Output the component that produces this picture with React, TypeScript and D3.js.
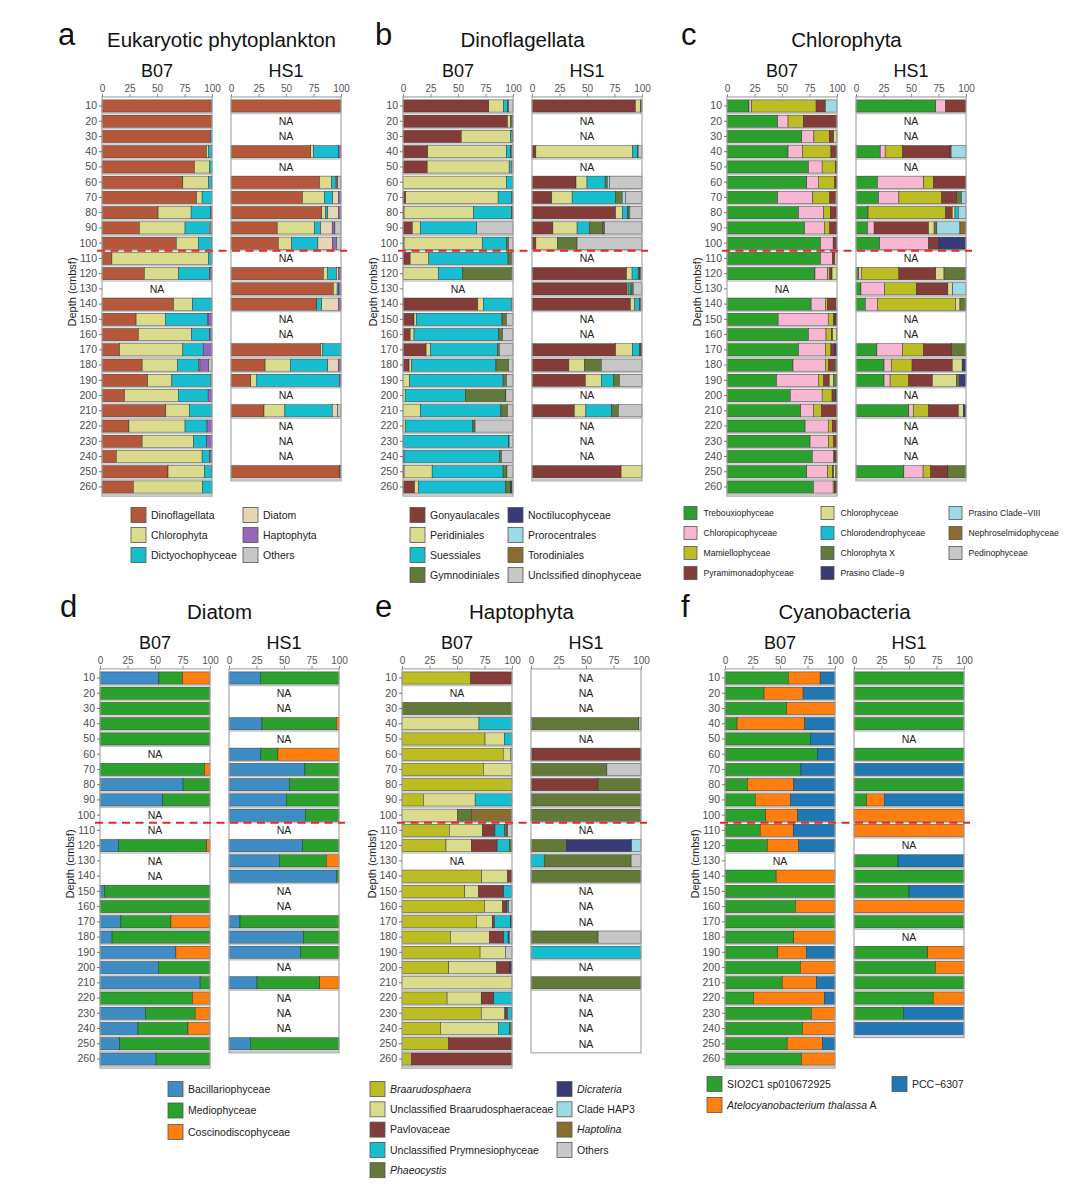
import * as d3 from "d3";
import { useEffect, useRef } from "react";

type Row = number[] | null;

const depths = [10, 20, 30, 40, 50, 60, 70, 80, 90, 100, 110, 120, 130, 140, 150, 160, 170, 180, 190, 200, 210, 220, 230, 240, 250, 260];
const xTicks = [0, 25, 50, 75, 100];

// a - Eukaryotic phytoplankton
const euKeys = ["Dinoflagellata", "Chlorophyta", "Dictyochophyceae", "Diatom", "Haptophyta", "Others"];
const euColors = ["#b5573b", "#dbdb8d", "#17becf", "#e7d6b6", "#9467bd", "#c7c7c7"];
const euB07: Row[] = [
  [99.5, 0, 0.5, 0, 0, 0], [100, 0, 0, 0, 0, 0], [98.5, 0, 1.5, 0, 0, 0], [95, 2, 2.5, 0, 0, 0.5],
  [84, 14, 2, 0, 0, 0], [73.5, 23.5, 2.5, 0, 0.5, 0], [86, 5, 9, 0, 0, 0], [51, 30, 17.5, 0, 1, 0.5],
  [34, 41.5, 22, 1.5, 0, 1], [67.5, 20, 12, 0, 0.5, 0], [9, 88, 3, 0, 0, 0], [38.5, 31, 28.5, 0, 1.5, 0.5],
  null, [65, 17.5, 17.5, 0, 0, 0], [31, 26.5, 38.5, 0.5, 3.5, 0], [33, 48.5, 16.5, 0, 2, 0],
  [16, 57.5, 18.5, 0, 8, 0], [36.5, 32, 19.5, 1, 8, 3], [41.5, 22, 35, 0, 0, 1.5], [20.5, 49, 27, 0, 3.5, 0],
  [58, 21.5, 20.5, 0, 0, 0], [24.5, 51, 20, 0, 4.5, 0], [36.5, 46.5, 12, 0, 5, 0], [13, 78, 7, 0, 1.5, 0.5],
  [60, 33, 6.5, 0, 0.5, 0], [28.5, 63, 8.5, 0, 0, 0],
];
const euHS1: Row[] = [
  [99.5, 0, 0, 0, 0, 0.5], null, null, [72.5, 2.5, 23, 0, 2, 0], null,
  [80.5, 11, 3.5, 1, 1, 3], [65, 20, 7.5, 5, 2.5, 0], [82.5, 3.5, 2, 9.5, 2.5, 0], [42, 34, 5.5, 10.5, 2.5, 5.5],
  [43, 12, 24, 13.5, 3.5, 4], null, [84, 4, 8, 2, 1.5, 0.5], [93, 3.5, 1.5, 0, 2, 0], [77.5, 0.5, 4.5, 15.5, 2, 0],
  null, null, [81.5, 2, 16.5, 0, 0, 0], [31, 23, 34, 9.5, 2, 0.5], [18, 5.5, 75, 0, 1.5, 0], null,
  [30, 19, 43, 5, 0, 3], null, null, null, [99, 0, 0, 0, 1, 0],
];

// b - Dinoflagellata
const dinoKeys = ["Gonyaulacales", "Peridiniales", "Suessiales", "Gymnodiniales", "Noctilucophyceae", "Prorocentrales", "Torodiniales", "Unclssified dinophyceae"];
const dinoColors = ["#843c39", "#dbdb8d", "#17becf", "#637939", "#393b79", "#9edae5", "#8c6d31", "#c7c7c7"];
const dinoB07: Row[] = [
  [78, 13.5, 3.5, 1, 0, 0, 0, 4], [95, 3, 0, 2, 0, 0, 0, 0], [53, 45, 1.5, 0.5, 0, 0, 0, 0], [22.5, 71.5, 4, 0.5, 0, 0, 0, 1.5],
  [22, 74.5, 2, 0, 0, 0, 0, 1.5], [0, 94, 6, 0, 0, 0, 0, 0], [2.5, 84, 12.5, 0.5, 0, 0, 0, 0.5], [1, 63, 34.5, 1, 0, 0, 0, 0.5],
  [8.5, 7.5, 51, 0, 0, 0, 0, 33], [1, 71, 22, 2, 0, 0, 0, 4], [6.5, 17, 72, 3, 0, 0, 0, 1.5], [0, 32, 22, 44.5, 0, 0, 0, 1.5],
  null, [68, 5, 25.5, 0, 0, 0, 0, 1.5], [10, 2.5, 77.5, 4, 0, 0, 0, 6], [6.5, 3.5, 77, 3.5, 0, 0, 0, 9.5],
  [21, 4, 61, 1.5, 0, 0, 0, 12.5], [5.5, 2.5, 76.5, 11.5, 0, 0, 0, 4], [0, 6, 85, 3, 0, 0, 0, 6], [0, 2, 55, 36, 0, 0, 0.5, 6.5],
  [0, 16, 73, 6, 0, 0, 0, 5], [0, 2, 61.5, 2, 0, 0, 0, 34.5], [0, 0.5, 95.5, 0.5, 0, 0, 0, 3.5], [1, 0, 86.5, 2, 0, 0, 0, 10.5],
  [1, 25.5, 64.5, 3.5, 0, 0, 0, 5.5], [10.5, 3.5, 79.5, 4, 1.5, 0, 0, 1],
];
const dinoHS1: Row[] = [
  [94, 4.5, 0, 1.5, 0, 0, 0, 0], null, null, [3.5, 88, 4.5, 0.5, 0, 0, 0, 3.5], null,
  [40, 10, 16.5, 2, 0, 2, 0, 29.5], [18, 18.5, 39.5, 6, 0, 3, 0, 15], [76, 6.5, 4.5, 1, 0, 1, 0, 11], [19, 22, 11, 12.5, 0, 0, 1.5, 34],
  [3.5, 19.5, 0, 18, 0, 0, 0, 59], null, [86, 5, 5.5, 1, 1, 0, 0, 1.5], [86.5, 1.5, 2, 2, 0, 0, 0, 8], [89.5, 4, 4, 1, 0, 0, 0, 1.5],
  null, null, [76, 15.5, 6.5, 1, 1, 0, 0, 0], [33.5, 14, 0, 15.5, 0, 0, 0, 37], [48.5, 14.5, 11, 5.5, 0, 0, 0, 20.5], null,
  [38.5, 10.5, 23.5, 6, 0, 0, 0, 21.5], null, null, null, [81, 19, 0, 0, 0, 0, 0, 0],
];

// c - Chlorophyta
const chloKeys = ["Trebouxiophyceae", "Chloropicophyceae", "Mamiellophyceae", "Pyramimonadophyceae", "Chlorophyceae", "Chlorodendrophyceae", "Chlorophyta X", "Prasino Clade\u22129", "Prasino Clade\u2212VIII", "Nephroselmidophyceae", "Pedinophyceae"];
const chloColors = ["#2ca02c", "#f7b6d2", "#bcbd22", "#843c39", "#dbdb8d", "#17becf", "#637939", "#393b79", "#9edae5", "#8c6d31", "#c7c7c7"];
const chloB07: Row[] = [
  [20, 2.5, 58.5, 8.5, 0, 0, 0, 0, 10.5, 0, 0], [46, 9.5, 14, 30.5, 0, 0, 0, 0, 0, 0, 0], [68, 11, 14, 4, 3, 0, 0, 0, 0, 0, 0],
  [55.5, 13, 26, 5, 0, 0, 0, 0.5, 0, 0, 0], [74, 12.5, 12, 1.5, 0, 0, 0, 0, 0, 0, 0], [72.5, 10.5, 15, 2, 0, 0, 0, 0, 0, 0, 0],
  [46, 32, 15.5, 5, 1.5, 0, 0, 0, 0, 0, 0], [65, 23, 6, 6, 0, 0, 0, 0, 0, 0, 0], [70.5, 18, 5, 6, 0, 0, 0, 0.5, 0, 0, 0],
  [85, 11.5, 0, 3.5, 0, 0, 0, 0, 0, 0, 0], [85, 11, 0, 2, 2, 0, 0, 0, 0, 0, 0], [80, 11.5, 2, 2, 4.5, 0, 0, 0, 0, 0, 0],
  null, [76.5, 13, 2, 7.5, 1, 0, 0, 0, 0, 0, 0], [46.5, 45.5, 5, 1, 0, 0, 1, 1, 0, 0, 0],
  [74, 16, 5, 1, 3.5, 0, 0.5, 0, 0, 0, 0], [65, 24.5, 5, 3, 0, 0, 0, 2.5, 0, 0, 0], [60, 29.5, 3, 5, 0, 0, 2.5, 0, 0, 0, 0],
  [45, 38, 5, 5, 4, 0, 3, 0, 0, 0, 0], [57.5, 29, 9, 2, 0, 0, 1, 1.5, 0, 0, 0], [67, 11.5, 7.5, 14, 0, 0, 0, 0, 0, 0, 0],
  [71, 21, 4, 4, 0, 0, 0, 0, 0, 0, 0], [75.5, 17, 4.5, 3, 0, 0, 0, 0, 0, 0, 0], [77.5, 19.5, 0.5, 2, 0, 0, 0, 0.5, 0, 0, 0],
  [72.5, 19, 4.5, 1, 2, 0, 0.5, 0.5, 0, 0, 0], [78.5, 18, 1, 2, 0, 0, 0, 0.5, 0, 0, 0],
];
const chloHS1: Row[] = [
  [72.5, 9, 0, 18.5, 0, 0, 0, 0, 0, 0, 0], null, null, [22, 4.5, 16, 43, 0, 0, 1, 0, 13.5, 0, 0], null,
  [19.5, 42, 9, 29.5, 0, 0, 0, 0, 0, 0, 0], [20.5, 18.5, 39, 13.5, 0, 0, 4.5, 0, 4, 0, 0],
  [10.5, 0.5, 70.5, 6, 2.5, 3, 0, 0, 7, 0, 0], [10.5, 6, 0, 49.5, 5, 0, 2.5, 0, 21, 5.5, 0],
  [21.5, 44.5, 0, 9, 0, 0, 0.5, 24.5, 0, 0, 0], null, [2.5, 2.5, 34, 33.5, 7.5, 0, 20, 0, 0, 0, 0],
  [4.5, 21.5, 29, 28.5, 4.5, 0, 0, 0, 12, 0, 0], [8.5, 11, 71, 0, 4, 0, 5.5, 0, 0, 0, 0], null, null,
  [19, 23.5, 19, 25.5, 0, 0, 13, 0, 0, 0, 0], [25.5, 6.5, 19, 36.5, 9, 0, 0, 3.5, 0, 0, 0],
  [25.5, 5.5, 17, 21.5, 22, 0, 2.5, 6, 0, 0, 0], null, [48, 4, 14, 27, 4.5, 0, 0, 2.5, 0, 0, 0],
  null, null, null, [43.5, 17.5, 7, 15.5, 0, 0, 16.5, 0, 0, 0, 0],
];

// d - Diatom
const diaKeys = ["Bacillariophyceae", "Mediophyceae", "Coscinodiscophyceae"];
const diaColors = ["#3d8cc4", "#2ca02c", "#ff7f0e"];
const diaB07: Row[] = [
  [53.5, 21.5, 25], [0, 100, 0], [0, 100, 0], [0, 100, 0], [0, 100, 0], null, [0, 95, 5], [75.5, 24.5, 0],
  [57, 43, 0], null, null, [17, 80, 3], null, null, [4, 96, 0], [0, 100, 0], [19, 45.5, 35.5], [11, 89, 0],
  [69, 0, 31], [53, 47, 0], [91, 9, 0], [0, 84, 16], [41.5, 45, 13.5], [34.5, 45.5, 20], [18, 82, 0], [51, 49, 0],
];
const diaHS1: Row[] = [
  [28.5, 71.5, 0], null, null, [30, 67.5, 2.5], null, [29, 15.5, 55.5], [69, 31, 0], [55, 45, 0], [52, 48, 0],
  [69.5, 30.5, 0], null, [67, 33, 0], [46, 42.5, 11.5], [97.5, 2.5, 0], null, null, [10, 90, 0], [67.5, 32.5, 0],
  [65, 35, 0], null, [25.5, 57, 17.5], null, null, null, [19.5, 80.5, 0],
];

// e - Haptophyta
const hapKeys = ["*Braarudosphaera*", "Unclassified Braarudosphaeraceae", "Pavlovaceae", "Unclassified Prymnesiophyceae", "*Phaeocystis*", "*Dicrateria*", "Clade HAP3", "*Haptolina*", "Others"];
const hapColors = ["#bcbd22", "#dbdb8d", "#843c39", "#17becf", "#637939", "#393b79", "#9edae5", "#8c6d31", "#c7c7c7"];
const hapB07: Row[] = [
  [62.5, 0, 37.5, 0, 0, 0, 0, 0, 0], null, [0, 0, 0, 0, 100, 0, 0, 0, 0], [0, 70, 0, 30, 0, 0, 0, 0, 0],
  [75.5, 17.5, 0, 7, 0, 0, 0, 0, 0], [92, 7, 0, 0, 0, 0, 0, 0, 1], [74, 26, 0, 0, 0, 0, 0, 0, 0],
  [100, 0, 0, 0, 0, 0, 0, 0, 0], [19.5, 47, 0, 33.5, 0, 0, 0, 0, 0], [0, 50.5, 0, 0, 12.5, 0, 0, 37, 0],
  [43, 30, 11.5, 8.5, 2.5, 0.5, 0, 0, 4], [40, 23, 23.5, 11, 2.5, 0, 0, 0, 0], null,
  [72.5, 23.5, 4, 0, 0, 0, 0, 0, 0], [57, 12.5, 23, 7.5, 0, 0, 0, 0, 0], [75, 16.5, 4, 1.5, 0, 0, 0, 0, 3],
  [67.5, 14.5, 2, 14.5, 0, 1.5, 0, 0, 0], [44, 35.5, 13, 4, 0, 1, 0, 0, 2.5], [71, 23, 0, 0, 0, 0, 0, 0, 6],
  [42.5, 43.5, 12, 0, 0, 2, 0, 0, 0], [0, 100, 0, 0, 0, 0, 0, 0, 0], [41, 31, 11.5, 16.5, 0, 0, 0, 0, 0],
  [72, 21.5, 2.5, 3.5, 0, 0.5, 0, 0, 0], [35, 52.5, 0, 10, 2.5, 0, 0, 0, 0], [42.5, 0, 57.5, 0, 0, 0, 0, 0, 0],
  [8.5, 0, 91.5, 0, 0, 0, 0, 0, 0],
];
const hapHS1: Row[] = [
  null, null, null, [0, 0, 0, 0, 98, 0, 0, 0, 2], null, [0, 0, 100, 0, 0, 0, 0, 0, 0],
  [0, 0, 0, 0, 69, 0, 0, 0, 31], [0, 0, 61, 0, 39, 0, 0, 0, 0], [0, 0, 0, 0, 100, 0, 0, 0, 0],
  [0, 0, 0, 0, 100, 0, 0, 0, 0], null, [0, 0, 0, 0, 32.5, 59, 8.5, 0, 0], [0, 0, 0, 12, 79, 0, 0, 0, 9],
  [0, 0, 0, 0, 100, 0, 0, 0, 0], null, null, null, [0, 0, 0, 0, 61, 0, 0, 0, 39], [0, 0, 0, 100, 0, 0, 0, 0, 0],
  null, [0, 0, 0, 0, 100, 0, 0, 0, 0], null, null, null, null,
];

// f - Cyanobacteria
const cyKeys = ["SIO2C1 sp010672925", "*Atelocyanobacterium thalassa* A", "PCC\u22126307"];
const cyColors = ["#2ca02c", "#ff7f0e", "#1f77b4"];
const cyB07: Row[] = [
  [57.5, 29, 13.5], [35.5, 35.5, 29], [56, 44, 0], [11, 61.5, 27.5], [77.5, 0, 22.5], [84, 0, 16], [69, 0, 31],
  [20.5, 42, 37.5], [27.5, 32, 40.5], [37, 29, 34], [32, 30, 38], [38.5, 28.5, 33], null, [46.5, 53.5, 0],
  [100, 0, 0], [64, 36, 0], [100, 0, 0], [62.5, 37.5, 0], [48, 26, 26], [68.5, 31.5, 0], [52, 31, 17],
  [26, 64.5, 9.5], [78.5, 21.5, 0], [70.5, 29.5, 0], [56.5, 32, 11.5], [69.5, 30.5, 0],
];
const cyHS1: Row[] = [
  [100, 0, 0], [100, 0, 0], [100, 0, 0], [100, 0, 0], null, [100, 0, 0], [0, 0, 100], [100, 0, 0],
  [11.5, 16, 72.5], [0, 100, 0], [0, 100, 0], null, [40, 0, 60], [100, 0, 0], [50, 0, 50], [0, 100, 0],
  [100, 0, 0], null, [67, 33, 0], [74, 26, 0], [100, 0, 0], [72, 28, 0], [45, 0, 55], [0, 0, 100],
];

const panels = [
  { letter: "a", title: "Eukaryotic phytoplankton", keys: euKeys, colors: euColors, b07: euB07, hs1: euHS1, x0: 102, yTop: 106, letterX: 58, legX: [131, 243], legY: 515, legDy: 20, legRows: 3, sw: 15, legFont: 10.5 },
  { letter: "b", title: "Dinoflagellata", keys: dinoKeys, colors: dinoColors, b07: dinoB07, hs1: dinoHS1, x0: 403, yTop: 106, letterX: 375, legX: [410, 508], legY: 515, legDy: 20, legRows: 4, sw: 15, legFont: 10.5 },
  { letter: "c", title: "Chlorophyta", keys: chloKeys, colors: chloColors, b07: chloB07, hs1: chloHS1, x0: 727, yTop: 106, letterX: 681, legX: [684, 821, 949], legY: 513, legDy: 20, legRows: 4, sw: 13, legFont: 8.6 },
  { letter: "d", title: "Diatom", keys: diaKeys, colors: diaColors, b07: diaB07, hs1: diaHS1, x0: 100, yTop: 678, letterX: 60, legX: [168], legY: 1089, legDy: 21.5, legRows: 3, sw: 15, legFont: 10.5 },
  { letter: "e", title: "Haptophyta", keys: hapKeys, colors: hapColors, b07: hapB07, hs1: hapHS1, x0: 402, yTop: 678, letterX: 375, legX: [370, 557], legY: 1089, legDy: 20.3, legRows: 5, sw: 15, legFont: 10.5 },
  { letter: "f", title: "Cyanobacteria", keys: cyKeys, colors: cyColors, b07: cyB07, hs1: cyHS1, x0: 725, yTop: 678, letterX: 681, legX: [707, 892], legY: 1084, legDy: 21, legRows: 2, sw: 15, legFont: 10.5 },
];

const FONT = "'Liberation Sans', Arial, sans-serif";

export default function App() {
  const svgRef = useRef<SVGSVGElement>(null);

  useEffect(() => {
    if (!svgRef.current) return;
    const svg = d3.select(svgRef.current);
    svg.selectAll("*").remove();
    svg.append("rect").attr("width", 1080).attr("height", 1192).attr("fill", "#fff");

    const step = 15.24;
    const facetW = 110;
    const facetGap = 129;

    panels.forEach((p) => {
      const g = svg.append("g").attr("font-family", FONT);
      const r0 = p.yTop - step / 2;
      const y = d3
        .scaleBand<string>()
        .domain(depths.map(String))
        .range([r0, r0 + depths.length * step])
        .paddingInner(0.2)
        .paddingOuter(0.1);
      const bw = y.bandwidth();

      // panel letter and title
      g.append("text").attr("x", p.letterX).attr("y", p.yTop - 61).attr("font-size", 31).attr("fill", "#111").text(p.letter);
      g.append("text")
        .attr("x", p.x0 + (facetGap + facetW) / 2)
        .attr("y", p.yTop - 59)
        .attr("text-anchor", "middle")
        .attr("font-size", 20.5)
        .attr("fill", "#111")
        .text(p.title);

      const facets = [
        { name: "B07", data: p.b07, fx: p.x0 },
        { name: "HS1", data: p.hs1, fx: p.x0 + facetGap },
      ];

      facets.forEach((f, fi) => {
        const x = d3.scaleLinear().domain([0, 1]).range([f.fx, f.fx + facetW]);
        const lastDepth = String(depths[f.data.length - 1]);
        const frameTop = (y(String(depths[0])) ?? 0) - 3;
        const frameBottom = (y(lastDepth) ?? 0) + bw + 3;

        g.append("text")
          .attr("x", f.fx + facetW / 2)
          .attr("y", p.yTop - 29)
          .attr("text-anchor", "middle")
          .attr("font-size", 18)
          .attr("fill", "#111")
          .text(f.name);

        g.append("rect")
          .attr("x", f.fx)
          .attr("y", frameTop)
          .attr("width", facetW)
          .attr("height", frameBottom - frameTop)
          .attr("fill", "#fff");

        const table = f.data
          .map((v, i) => {
            if (!v) return null;
            const o: Record<string, any> = { depth: String(depths[i]) };
            v.forEach((val, k) => (o[String(k)] = val));
            return o;
          })
          .filter((o): o is Record<string, any> => o !== null);

        // soft shadow under each bar
        g.append("g")
          .selectAll("line")
          .data(table)
          .join("line")
          .attr("x1", f.fx)
          .attr("x2", f.fx + facetW)
          .attr("y1", (d) => (y(d.depth) ?? 0) + bw + 1.3)
          .attr("y2", (d) => (y(d.depth) ?? 0) + bw + 1.3)
          .attr("stroke", "#c4c4c4")
          .attr("stroke-width", 1.5);

        const stack = d3
          .stack<Record<string, any>>()
          .keys(p.keys.map((_, k) => String(k)))
          .offset(d3.stackOffsetExpand);
        const series = stack(table);

        series.forEach((s, k) => {
          g.append("g")
            .selectAll("rect")
            .data(s.filter((pt) => pt[1] - pt[0] > 0))
            .join("rect")
            .attr("x", (pt) => x(pt[0]))
            .attr("width", (pt) => x(pt[1]) - x(pt[0]))
            .attr("y", (pt) => y(pt.data.depth) ?? 0)
            .attr("height", bw)
            .attr("fill", p.colors[k])
            .attr("stroke", "#2b2b2b")
            .attr("stroke-width", 0.45);
        });

        // NA labels
        g.append("g")
          .selectAll("text")
          .data(f.data.map((v, i) => ({ v, depth: String(depths[i]) })).filter((d) => d.v === null))
          .join("text")
          .attr("x", f.fx + facetW / 2)
          .attr("y", (d) => (y(d.depth) ?? 0) + bw / 2)
          .attr("dy", "0.36em")
          .attr("text-anchor", "middle")
          .attr("font-size", 10.5)
          .attr("fill", "#222")
          .text("NA");

        g.append("rect")
          .attr("x", f.fx)
          .attr("y", frameTop)
          .attr("width", facetW)
          .attr("height", frameBottom - frameTop)
          .attr("fill", "none")
          .attr("stroke", "#a8a8a8")
          .attr("stroke-width", 1.2);

        const top = g
          .append("g")
          .attr("transform", `translate(0,${frameTop})`)
          .call(
            d3
              .axisTop(x)
              .tickValues(xTicks.map((t) => t / 100))
              .tickFormat((d) => String(Math.round(+d * 100)))
              .tickSize(3)
              .tickPadding(1.5)
          );
        top.select(".domain").remove();
        top.selectAll(".tick line").attr("stroke", "#888");
        top.selectAll(".tick text").attr("fill", "#555").attr("font-size", 10).attr("font-family", FONT);

        if (fi === 0) {
          const left = g
            .append("g")
            .attr("transform", `translate(${f.fx},0)`)
            .call(d3.axisLeft(y).tickSize(3).tickPadding(2));
          left.select(".domain").remove();
          left.selectAll(".tick line").attr("stroke", "#777");
          left.selectAll(".tick text").attr("fill", "#4d4d4d").attr("font-size", 10.5).attr("font-family", FONT);

          g.append("text")
            .attr("transform", `translate(${f.fx - 26},${p.yTop + 186}) rotate(-90)`)
            .attr("text-anchor", "middle")
            .attr("font-size", 11)
            .attr("fill", "#222")
            .text("Depth (cmbsf)");
        }
      });

      // red dashed divider between 100 and 110 cmbsf
      const yDiv = (y("100") ?? 0) + bw / 2 + step / 2;
      g.append("line")
        .attr("x1", p.x0 - 5)
        .attr("x2", p.x0 + facetGap + facetW + 6)
        .attr("y1", yDiv)
        .attr("y2", yDiv)
        .attr("stroke", "#e8262a")
        .attr("stroke-width", 2)
        .attr("stroke-dasharray", "8,5.5");

      // legend
      p.keys.forEach((key, i) => {
        const col = Math.floor(i / p.legRows);
        const row = i % p.legRows;
        const lx = p.legX[col];
        const ly = p.legY + row * p.legDy;
        g.append("rect")
          .attr("x", lx)
          .attr("y", ly - p.sw / 2)
          .attr("width", p.sw)
          .attr("height", p.sw)
          .attr("fill", p.colors[i])
          .attr("stroke", "#555")
          .attr("stroke-width", 0.8);
        const t = g
          .append("text")
          .attr("x", lx + p.sw + (p.sw < 15 ? 6.5 : 5))
          .attr("y", ly)
          .attr("dy", "0.35em")
          .attr("font-size", p.legFont)
          .attr("fill", "#222");
        key.split("*").forEach((part, j) => {
          if (!part) return;
          t.append("tspan").attr("font-style", j % 2 === 1 ? "italic" : "normal").text(part);
        });
      });
    });
  }, []);

  return (
    <svg
      ref={svgRef}
      width={1080}
      height={1192}
      style={{ position: "absolute", left: 0, top: 0, display: "block" }}
    />
  );
}
